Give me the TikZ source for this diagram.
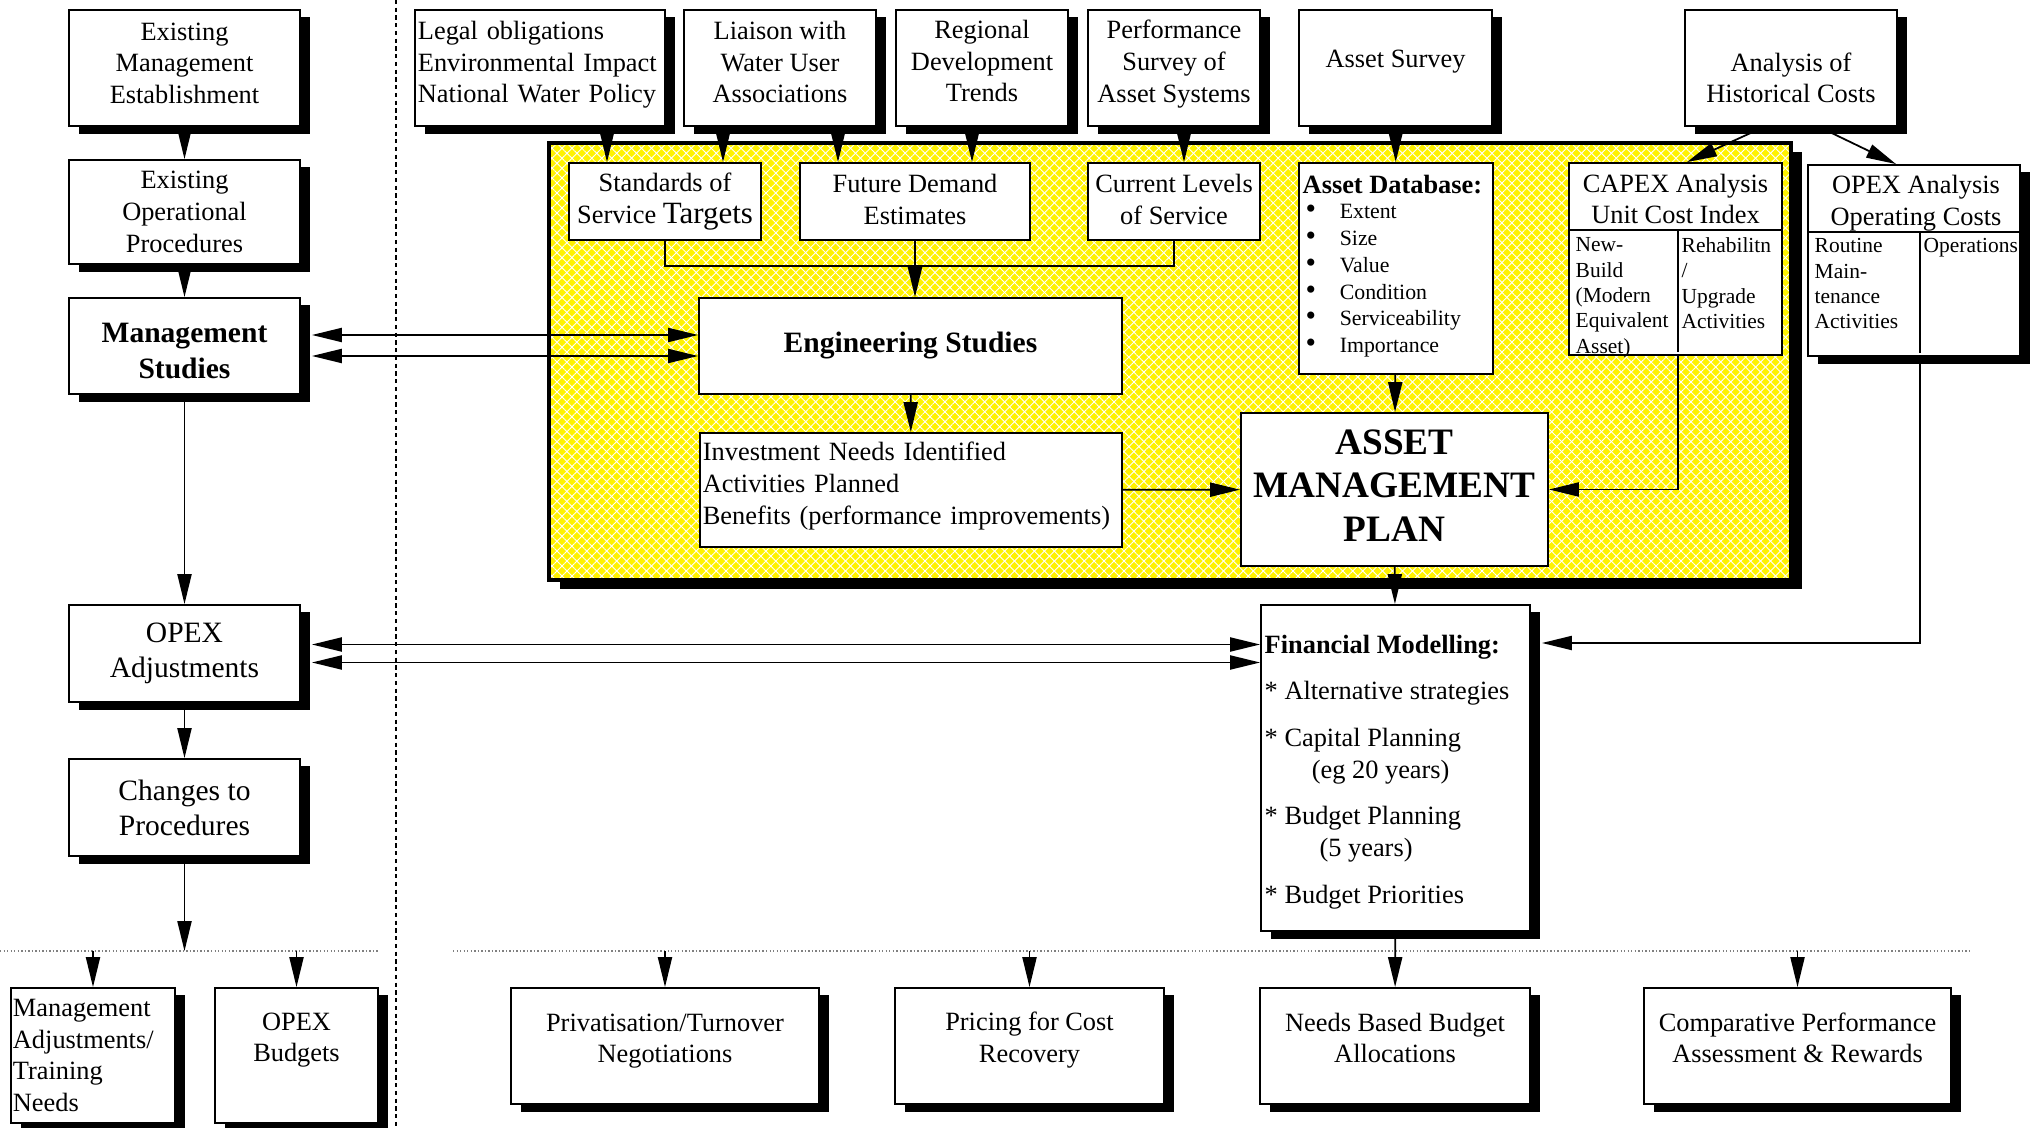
\documentclass[tikz,border=0pt]{standalone}
\usepackage{fontspec}
\setmainfont{Liberation Serif}
\usetikzlibrary{arrows.meta,shadows,patterns.meta}
\newcommand{\dbbullet}{\makebox[9.7pt][l]{\fontsize{8.5}{7.6}\selectfont\textbullet}}

\begin{document}
\begin{tikzpicture}[x=0.01cm,y=-0.01cm,
    box/.style={draw,line width=0.5pt,fill=white,inner sep=0pt,align=center,
      font=\fontsize{7.5}{9}\selectfont},
    shbox/.style={box,drop shadow={shadow xshift=0.1cm,shadow yshift=-0.075cm,fill=black,opacity=1}},
    txt/.style={inner sep=0pt,align=center,font=\fontsize{7.5}{9}\selectfont},
    coltxt/.style={inner sep=0pt,align=left,anchor=north west,font=\fontsize{6.1}{7.2}\selectfont},
    arr/.style={line width=0.5pt,-{Triangle[length=8.5pt,width=4pt]}},
    dblarr/.style={line width=0.5pt,{Triangle[length=8.5pt,width=4pt]}-{Triangle[length=8.5pt,width=4pt]}}]
  \useasboundingbox (0,0) rectangle (2031,1128);

  \fill[yellow,drop shadow={shadow xshift=0.11cm,shadow yshift=-0.09cm,fill=black,opacity=1},
    postaction={pattern={Lines[angle=45,distance=2pt,line width=0.25pt]},pattern color=white},
    postaction={pattern={Lines[angle=-45,distance=2pt,line width=0.25pt]},pattern color=white}]
    (549,143) rectangle (1791,580);
  \draw[line width=1.2pt] (549,143) rectangle (1791,580);

  \draw[dash pattern=on 1.2pt off 1pt,line width=0.4pt] (396,0) -- (396,1128);
  \draw[dash pattern=on 0.4pt off 0.6pt,gray,line width=0.5pt] (0,951) coordinate (dl1) -- (378,951) coordinate (dl2);
  \draw[dash pattern=on 0.4pt off 0.6pt,gray,line width=0.5pt] (453,951) coordinate (dr1) -- (1970,951) coordinate (dr2);

  \node[shbox,minimum width=2.31cm,minimum height=1.16cm,text depth=2.8pt] (eme) at (184.5,68) {Existing\\Management\\Establishment};
  \node[shbox,minimum width=2.31cm,minimum height=1.04cm] (eop) at (184.5,212) {Existing\\Operational\\Procedures};
  \node[shbox,minimum width=2.31cm,minimum height=0.96cm] (ms) at (184.5,346) {};
  \node[txt,font=\bfseries\fontsize{8.4}{10}\selectfont] (ms-t) at (184.5,351) {Management\\Studies};
  \node[shbox,minimum width=2.31cm,minimum height=0.97cm,font=\fontsize{8.4}{10}\selectfont] (oadj) at (184.5,653.5) {OPEX\\Adjustments};
  \node[shbox,minimum width=2.31cm,minimum height=0.97cm,font=\fontsize{8.4}{10}\selectfont] (chg) at (184.5,807.5) {Changes to\\Procedures};
  \node[shbox,minimum width=1.64cm,minimum height=1.35cm,text width=1.6cm,align=left] (madj) at (93,1055.5) {Management\\Adjustments/\\Training\\Needs};
  \node[shbox,minimum width=1.63cm,minimum height=1.35cm] (obud) at (296.5,1055.5) {};
  \node[txt] (obud-t) at (296.5,1040) {OPEX\\Budgets};

  \node[shbox,minimum width=2.5cm,minimum height=1.16cm,text width=2.44cm,align=left,text depth=21.3pt] (legal) at (540,68) {Legal obligations\\Environmental Impact\\National Water Policy};
  \node[shbox,minimum width=1.92cm,minimum height=1.16cm,text depth=3.4pt] (liaison) at (780,68) {Liaison with\\Water User\\Associations};
  \node[shbox,minimum width=1.72cm,minimum height=1.16cm,text depth=4pt] (regional) at (982,68) {Regional\\Development\\Trends};
  \node[shbox,minimum width=1.72cm,minimum height=1.16cm,text depth=3.9pt] (perf) at (1174,68) {Performance\\Survey of\\Asset Systems};
  \node[shbox,minimum width=1.93cm,minimum height=1.16cm] (asurv) at (1395.5,68) {};
  \node[txt] (asurv-t) at (1395.5,62) {Asset Survey};
  \node[shbox,minimum width=2.12cm,minimum height=1.16cm] (hist) at (1791,68) {};
  \node[txt] (hist-t) at (1791,78) {Analysis of\\Historical Costs};

  \node[box,minimum width=1.92cm,minimum height=0.77cm] (std) at (665,201.5) {Standards of\\Service {\fontsize{8.8}{9}\selectfont Targets}};
  \node[box,minimum width=2.3cm,minimum height=0.77cm,text depth=1.2pt] (fut) at (915,201.5) {Future Demand\\Estimates};
  \node[box,minimum width=1.72cm,minimum height=0.77cm,text depth=1.2pt] (cur) at (1174,201.5) {Current Levels\\of Service};

  \node[box,minimum width=1.94cm,minimum height=2.11cm] (adb) at (1396,268.5) {};
  \node[txt,anchor=west,font=\bfseries\fontsize{7.5}{9}\selectfont] (adb-t) at (1302,185) {Asset Database:};
  \node[txt,align=left,anchor=north west,font=\fontsize{6.2}{7.6}\selectfont] (adb-l) at (1305,204)
    {\dbbullet Extent\\\dbbullet Size\\\dbbullet Value\\\dbbullet Condition\\\dbbullet Serviceability\\\dbbullet Importance};

  \node[box,minimum width=2.13cm,minimum height=1.92cm] (capex) at (1675.5,259) {};
  \node[txt] (capex-h) at (1675.5,199) {CAPEX Analysis\\Unit Cost Index};
  \draw[line width=0.5pt] (capex.west |- 0,230) -- (capex.east |- 0,230);
  \draw[line width=0.5pt] (1678,230) -- (1678,352);
  \node[coltxt] (capex-l) at (1575,237) {New-\\Build\\(Modern\\Equivalent\\Asset)};
  \node[coltxt] (capex-r) at (1681,237) {Rehabilitn\\/\\Upgrade\\Activities};

  \node[shbox,minimum width=2.12cm,minimum height=1.91cm] (opexa) at (1914,260.5) {};
  \node[txt] (opexa-h) at (1916,203) {OPEX Analysis\\Operating Costs};
  \draw[line width=0.5pt] (opexa.west |- 0,232) -- (opexa.east |- 0,232);
  \draw[line width=0.5pt] (1920,232) -- (1920,353);
  \node[coltxt] (opexa-l) at (1814,238) {Routine\\Main-\\tenance\\Activities};
  \node[coltxt] (opexa-r) at (1923,238) {Operations};

  \node[box,minimum width=4.23cm,minimum height=0.96cm,font=\bfseries\fontsize{8.4}{10}\selectfont] (es) at (910.5,346) {Engineering Studies};
  \node[box,minimum width=4.22cm,minimum height=1.14cm,text width=4.16cm,align=left,text depth=21.9pt] (inv) at (911,490) {Investment Needs Identified\\Activities Planned\\Benefits (performance improvements)};
  \node[box,minimum width=3.07cm,minimum height=1.53cm,font=\bfseries\fontsize{10.6}{12.5}\selectfont,text depth=2.2pt] (amp) at (1394.5,489.5) {ASSET\\MANAGEMENT\\PLAN};

  \node[shbox,minimum width=2.69cm,minimum height=3.26cm] (fm) at (1395.5,768) {};
  \node[txt,align=left,anchor=north west] (fm-t) at (1264,634)
    {\textbf{Financial Modelling:}\\[4.3pt]* Alternative strategies\\[4.3pt]* Capital Planning\\\hspace{13.4pt}(eg 20 years)\\[4.3pt]* Budget Planning\\\hspace{15.6pt}(5 years)\\[4.3pt]* Budget Priorities};

  \node[shbox,minimum width=3.08cm,minimum height=1.16cm,text depth=4.4pt] (priv) at (665,1046) {Privatisation/Turnover\\Negotiations};
  \node[shbox,minimum width=2.69cm,minimum height=1.16cm,text depth=5pt] (price) at (1029.5,1046) {Pricing for Cost\\Recovery};
  \node[shbox,minimum width=2.7cm,minimum height=1.16cm,text depth=4.6pt] (needs) at (1395,1046) {Needs Based Budget\\Allocations};
  \node[shbox,minimum width=3.07cm,minimum height=1.16cm,text depth=4.8pt] (comp) at (1797.5,1046) {Comparative Performance\\Assessment \& Rewards};

  \draw[arr] (eme) -- (eop);
  \draw[arr] (eop) -- (ms);
  \draw[arr] (ms) -- (oadj);
  \draw[arr] (oadj) -- (chg);
  \draw[arr] (chg.south) -- (chg.south |- dl1);
  \draw[arr] (madj.north |- dl1) -- (madj);
  \draw[arr] (obud.north |- dl1) -- (obud);

  \draw[dblarr,shorten <=0.11cm] ([shift={(0,-11)}]ms.east) -- ([shift={(0,-11)}]es.west);
  \draw[dblarr,shorten <=0.11cm] ([shift={(0,10)}]ms.east) -- ([shift={(0,10)}]es.west);
  \draw[dblarr,shorten <=0.11cm] ([shift={(0,-9)}]oadj.east) -- ([shift={(0,-123.5)}]fm.west);
  \draw[dblarr,shorten <=0.11cm] ([shift={(0,9)}]oadj.east) -- ([shift={(0,-105.5)}]fm.west);

  \draw[arr] (legal.south -| 607,0) -- (std.north -| 607,0);
  \draw[arr] (liaison.south -| 723,0) -- (std.north -| 723,0);
  \draw[arr] (liaison.south -| 838,0) -- (fut.north -| 838,0);
  \draw[arr] (regional.south -| 972,0) -- (fut.north -| 972,0);
  \draw[arr] (perf.south -| 1184,0) -- (cur.north -| 1184,0);
  \draw[arr] (asurv) -- (adb);

  \coordinate (mg) at (915,266);
  \draw[line width=0.5pt] (std.south) |- (mg) -| (cur.south);
  \draw[arr] (fut) -- (es.north -| fut.south);
  \draw[arr] (es) -- (inv);
  \draw[arr] (inv) -- (amp);
  \draw[arr] (adb) -- (amp);
  \draw[arr] (amp) -- (fm);

  \draw[arr] (hist.south -| 1764,0) -- (capex.north -| 1687,0);
  \draw[arr] (hist.south -| 1819,0) -- (opexa.north -| 1896,0);
  \draw[arr] (capex.south -| 1678,0) |- (amp.east);
  \draw[arr,shorten >=0.11cm] (opexa.south -| 1920,0) |- ([shift={(0,-125)}]fm.east);

  \draw[arr] (fm) -- (needs);
  \draw[arr] (priv.north |- dr1) -- (priv);
  \draw[arr] (price.north |- dr1) -- (price);
  \draw[arr] (comp.north |- dr1) -- (comp);
\end{tikzpicture}
\end{document}
